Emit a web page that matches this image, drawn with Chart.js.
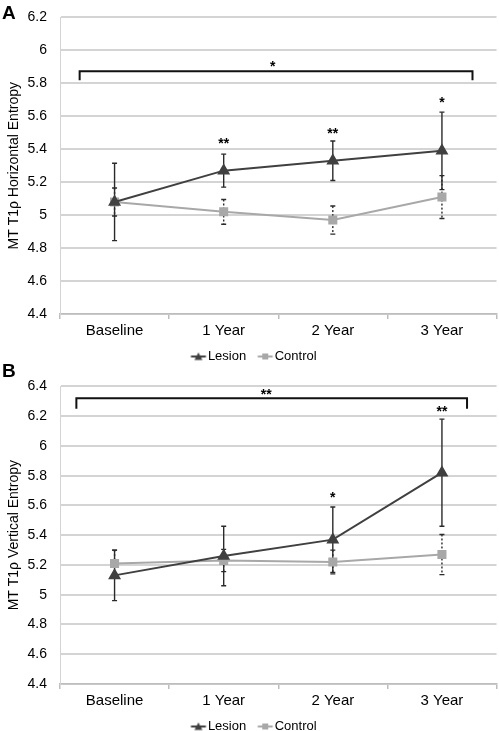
<!DOCTYPE html>
<html>
<head>
<meta charset="utf-8">
<script src="https://cdn.jsdelivr.net/npm/chart.js@4.4.1/dist/chart.umd.min.js"></script>
<style>
  html, body { margin:0; padding:0; background:#fff; overflow:hidden; }
  #wrap { position:relative; width:499px; height:731px; overflow:hidden; }
  .box { position:absolute; left:0; width:504px; }
  .letter { position:absolute; font:bold 19px "Liberation Sans", Arial, sans-serif; color:#000; }
</style>
</head>
<body>
<div id="wrap">
  <div class="box" style="top:-4px;height:377px"><canvas id="chartA" width="504" height="377"></canvas></div>
  <div class="box" style="top:365px;height:378px"><canvas id="chartB" width="504" height="378"></canvas></div>
  <div class="letter" style="left:2px;top:2px">A</div>
  <div class="letter" style="left:2px;top:360px">B</div>
</div>
<script>
// data
const categories = ['Baseline', '1 Year', '2 Year', '3 Year'];

// panel A : horizontal entropy
const lesionA = [5.08, 5.27, 5.33, 5.39];
const lesionErrA = [0.235, 0.10, 0.12, 0.235];
const controlA = [5.08, 5.02, 4.97, 5.11];
const controlErrA = [0.085, 0.075, 0.085, 0.13];
const starsA = ['', '**', '**', '*'];
const starYA = [null, 5.45, 5.51, 5.70];
const yTicksA = [4.4, 6.2];

// panel B : vertical entropy
const lesionB = [5.13, 5.26, 5.37, 5.82];
const lesionErrB = [0.17, 0.20, 0.22, 0.36];
const controlB = [5.21, 5.23, 5.22, 5.27];
const controlErrB = [0.09, 0.075, 0.08, 0.135];
const starsB = ['', '', '*', '**'];
const starYB = [null, null, 5.67, 6.25];
const yTicksB = [4.4, 6.4];

// overall bracket: [x from, x to, y top, y ends, label, label x, label y]
const bracketA = [-0.32, 3.28, 5.873, 5.818, '*', 1.45, 5.915];
const bracketB = [-0.35, 3.23, 6.32, 6.25, '**', 1.39, 6.36];

const LESION = '#404040', CONTROL = '#a8a8a8';
const FONT = '"Liberation Sans", Arial, sans-serif';

// legend sample: short line with the marker, sitting at the right of a wider image
function legendIcon(style, color) {
  const c = document.createElement('canvas');
  c.width = 26; c.height = 10;
  const g = c.getContext('2d');
  const o = 9.5;
  g.strokeStyle = color; g.fillStyle = color; g.lineWidth = 2;
  g.beginPath(); g.moveTo(o, 5); g.lineTo(o + 15, 5); g.stroke();
  g.beginPath();
  if (style === 'triangle') { g.moveTo(o + 7.5, 1); g.lineTo(o + 11.5, 8.5); g.lineTo(o + 3.5, 8.5); }
  else { g.rect(o + 4.5, 2, 6, 6); }
  g.fill();
  return c;
}
const iconLesion = legendIcon('triangle', LESION);
const iconControl = legendIcon('rect', CONTROL);

const extras = {
  id: 'extras',
  beforeDatasetsDraw(chart, args, opts) {
    const g = chart.ctx, x = chart.scales.x, y = chart.scales.y;
    g.save();
    opts.errs.forEach((errs, di) => {
      const vals = chart.data.datasets[di].data;
      g.strokeStyle = '#2a2a2a';
      g.lineWidth = 1.4;
      vals.forEach((v, i) => {
        const px = x.getPixelForValue(i);
        const top = y.getPixelForValue(v + errs[i]);
        const bot = y.getPixelForValue(v - errs[i]);
        g.setLineDash(di === 1 ? [2, 2] : []);
        g.beginPath(); g.moveTo(px, top); g.lineTo(px, bot); g.stroke();
        g.setLineDash([]);
        g.beginPath();
        g.moveTo(px - 2.5, top); g.lineTo(px + 2.5, top);
        g.moveTo(px - 2.5, bot); g.lineTo(px + 2.5, bot);
        g.stroke();
      });
    });
    g.restore();
  },
  afterDatasetsDraw(chart, args, opts) {
    const g = chart.ctx, x = chart.scales.x, y = chart.scales.y;
    const b = opts.bracket;
    g.save();
    g.strokeStyle = '#111'; g.lineWidth = 2;
    const x0 = x.getPixelForValue(b[0]), x1 = x.getPixelForValue(b[1]);
    const yt = y.getPixelForValue(b[2]), ye = y.getPixelForValue(b[3]);
    g.beginPath();
    g.moveTo(x0, ye); g.lineTo(x0, yt); g.lineTo(x1, yt); g.lineTo(x1, ye);
    g.stroke();
    g.fillStyle = '#000';
    g.font = 'bold 14px ' + FONT;
    g.textAlign = 'center'; g.textBaseline = 'middle';
    g.fillText(b[4], x.getPixelForValue(b[5]), y.getPixelForValue(b[6]) + 3);
    opts.stars.forEach((s, i) => {
      if (!s) return;
      g.fillText(s, x.getPixelForValue(i), y.getPixelForValue(opts.starY[i]) + 3);
    });
    g.restore();
  }
};

function makeChart(id, lesion, lesErr, control, conErr, stars, starY, bracket, yRange, title) {
  return new Chart(document.getElementById(id), {
    type: 'line',
    data: {
      labels: categories,
      datasets: [
        { label: 'Lesion', data: lesion, borderColor: LESION, backgroundColor: LESION,
          borderWidth: 2, pointStyle: 'triangle', pointRadius: 5.5, tension: 0 },
        { label: 'Control', data: control, borderColor: CONTROL, backgroundColor: CONTROL,
          borderWidth: 2, pointStyle: 'rect', pointRadius: 5, tension: 0 }
      ]
    },
    plugins: [extras],
    options: {
      responsive: false,
      animation: false,
      layout: { padding: { top: 4, right: 0, left: 0, bottom: 0 } },
      plugins: {
        tooltip: { enabled: false },
        legend: {
          position: 'bottom',
          labels: {
            color: '#000',
            font: { family: FONT, size: 13 },
            usePointStyle: true,
            pointStyleWidth: 14,
            padding: 8,
            generateLabels(chart) {
              return chart.data.datasets.map((ds, i) => ({
                text: ds.label, datasetIndex: i,
                pointStyle: i === 0 ? iconLesion : iconControl,
                fillStyle: ds.borderColor, strokeStyle: ds.borderColor,
                fontColor: '#000', lineWidth: 0, hidden: false
              }));
            }
          }
        },
        extras: { errs: [lesErr, conErr], stars: stars, starY: starY, bracket: bracket }
      },
      scales: {
        x: {
          offset: true,
          grid: { offset: true, drawOnChartArea: false, tickLength: 5, color: '#bdbdbd', lineWidth: 1.5 },
          border: { color: '#bdbdbd', width: 1.5 },
          ticks: { color: '#000', font: { family: FONT, size: 15 }, padding: 3, maxRotation: 0 },
          afterFit(s) { s.height = 28; }
        },
        y: {
          min: yRange[0], max: yRange[1],
          ticks: { stepSize: 0.2, color: '#000', font: { family: FONT, size: 14 }, padding: 13,
            callback: v => String(Number(v.toFixed(1))) },
          grid: { color: '#d4d4d4', lineWidth: 2, drawTicks: false },
          border: { color: '#d4d4d4', width: 1 },
          title: { display: true, text: title, color: '#000', font: { family: FONT, size: 14 }, padding: { top: 6, bottom: 0 } },
          afterFit(s) { s.width = 60; }
        }
      }
    }
  });
}

makeChart('chartA', lesionA, lesionErrA, controlA, controlErrA, starsA, starYA, bracketA, yTicksA,
  'MT T1ρ Horizontal Entropy');
makeChart('chartB', lesionB, lesionErrB, controlB, controlErrB, starsB, starYB, bracketB, yTicksB,
  'MT T1ρ Vertical Entropy');
</script>
</body>
</html>
